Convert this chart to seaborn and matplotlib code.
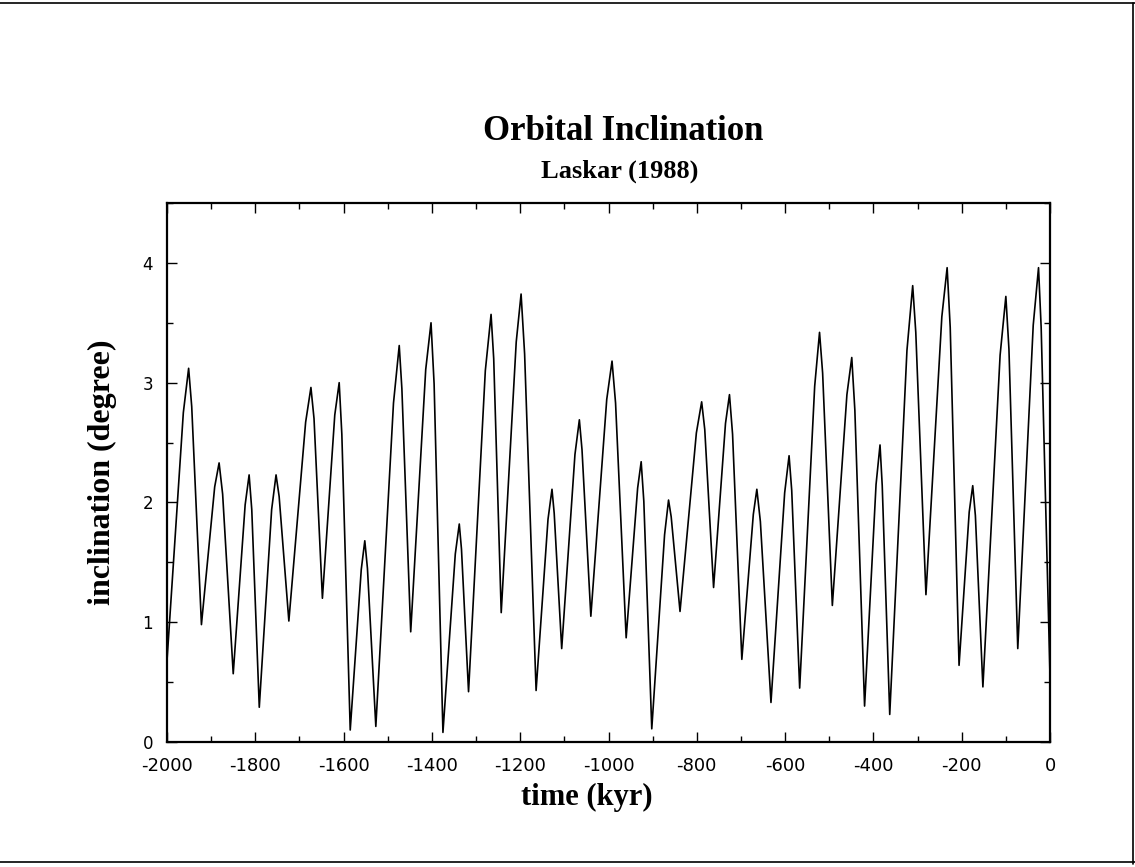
import matplotlib
matplotlib.use('Agg')
import matplotlib.pyplot as plt
from matplotlib.lines import Line2D
from matplotlib.ticker import MultipleLocator
import seaborn as sns
import pandas as pd

# points: turning points plus the shoulders next to each peak
time_kyr = [-2000, -1963, -1951, -1944, -1922, -1892, -1882, -1874, -1850, -1823,
            -1814, -1808, -1791, -1763, -1753, -1746, -1724, -1686, -1674, -1667,
            -1648, -1620, -1610, -1604, -1585, -1560, -1552, -1546, -1527, -1487,
            -1474, -1468, -1448, -1414, -1402, -1395, -1375, -1347, -1338, -1333,
            -1317, -1279, -1266, -1260, -1243, -1209, -1198, -1190, -1164, -1137,
            -1128, -1123, -1106, -1076, -1066, -1060, -1040, -1004, -992, -984,
            -960, -934, -926, -920, -902, -873, -864, -858, -838, -801,
            -789, -782, -762, -735, -726, -719, -698, -672, -664, -656,
            -632, -601, -591, -585, -567, -533, -522, -515, -493, -460,
            -449, -442, -420, -394, -385, -380, -363, -324, -311, -304,
            -281, -245, -233, -226, -206, -183, -175, -169, -152, -113,
            -100, -93, -73, -38, -26, -20, 0]
inclination = [0.68, 2.75, 3.12, 2.80, 0.98, 2.13, 2.33, 2.07, 0.57, 1.98,
               2.23, 1.94, 0.29, 1.94, 2.23, 2.05, 1.01, 2.67, 2.96, 2.70,
               1.20, 2.73, 3.00, 2.57, 0.10, 1.44, 1.68, 1.45, 0.13, 2.83,
               3.31, 2.95, 0.92, 3.11, 3.50, 2.99, 0.08, 1.57, 1.82, 1.61,
               0.42, 3.10, 3.57, 3.20, 1.08, 3.34, 3.74, 3.24, 0.43, 1.86,
               2.11, 1.91, 0.78, 2.40, 2.69, 2.44, 1.05, 2.86, 3.18, 2.83,
               0.87, 2.12, 2.34, 2.01, 0.11, 1.73, 2.02, 1.88, 1.09, 2.58,
               2.84, 2.61, 1.29, 2.66, 2.90, 2.57, 0.69, 1.90, 2.11, 1.84,
               0.33, 2.08, 2.39, 2.10, 0.45, 2.97, 3.42, 3.08, 1.14, 2.90,
               3.21, 2.77, 0.30, 2.15, 2.48, 2.14, 0.23, 3.27, 3.81, 3.42,
               1.23, 3.55, 3.96, 3.46, 0.64, 1.92, 2.14, 1.89, 0.46, 3.23,
               3.72, 3.28, 0.78, 3.48, 3.96, 3.46, 0.55]

df = pd.DataFrame({'time': time_kyr, 'inclination': inclination})

sns.set_style('ticks')
plt.rcParams['font.family'] = ['DejaVu Sans']
plt.rcParams['axes.unicode_minus'] = False

fig = plt.figure(figsize=(11.35, 8.67), dpi=100)
ax = fig.add_axes([167 / 1135, 125 / 867, 883 / 1135, 539 / 867])

sns.lineplot(data=df, x='time', y='inclination', ax=ax, color='black',
             linewidth=1.2, sort=False, estimator=None)

ax.set_xlim(-2000, 0)
ax.set_ylim(0, 4.5)
ax.xaxis.set_major_locator(MultipleLocator(200))
ax.xaxis.set_minor_locator(MultipleLocator(100))
ax.yaxis.set_major_locator(MultipleLocator(1))
ax.yaxis.set_minor_locator(MultipleLocator(0.5))
ax.tick_params(which='both', direction='in', top=True, right=True, width=1, colors='black')
ax.tick_params(which='major', length=7)
ax.tick_params(which='minor', length=4)
ax.tick_params(axis='x', labelsize=13, pad=11)
ax.tick_params(axis='y', labelsize=12, pad=10)
for s in ax.spines.values():
    s.set_linewidth(1.6)
    s.set_color('black')

serif = dict(family='Liberation Serif', weight='bold', color='black')
ax.set_xlabel('time (kyr)', fontsize=22, labelpad=10, **serif)
ax.xaxis.set_label_coords(0.475, -0.075)
ax.set_ylabel('inclination (degree)', fontsize=23, labelpad=18, **serif)
fig.text(0.549, 0.838, 'Orbital Inclination', ha='center', va='baseline', fontsize=25, **serif)
fig.text(0.546, 0.795, 'Laskar (1988)', ha='center', va='baseline', fontsize=19, **serif)

# border lines of the scanned page
fig.add_artist(Line2D([0, 1], [0.997, 0.997], color='black', lw=1.2))
fig.add_artist(Line2D([0.998, 0.998], [0.003, 0.997], color='black', lw=1.2))
fig.add_artist(Line2D([0, 1], [0.006, 0.006], color='black', lw=1.2))

fig.savefig('out.png', dpi=100, facecolor='white')
